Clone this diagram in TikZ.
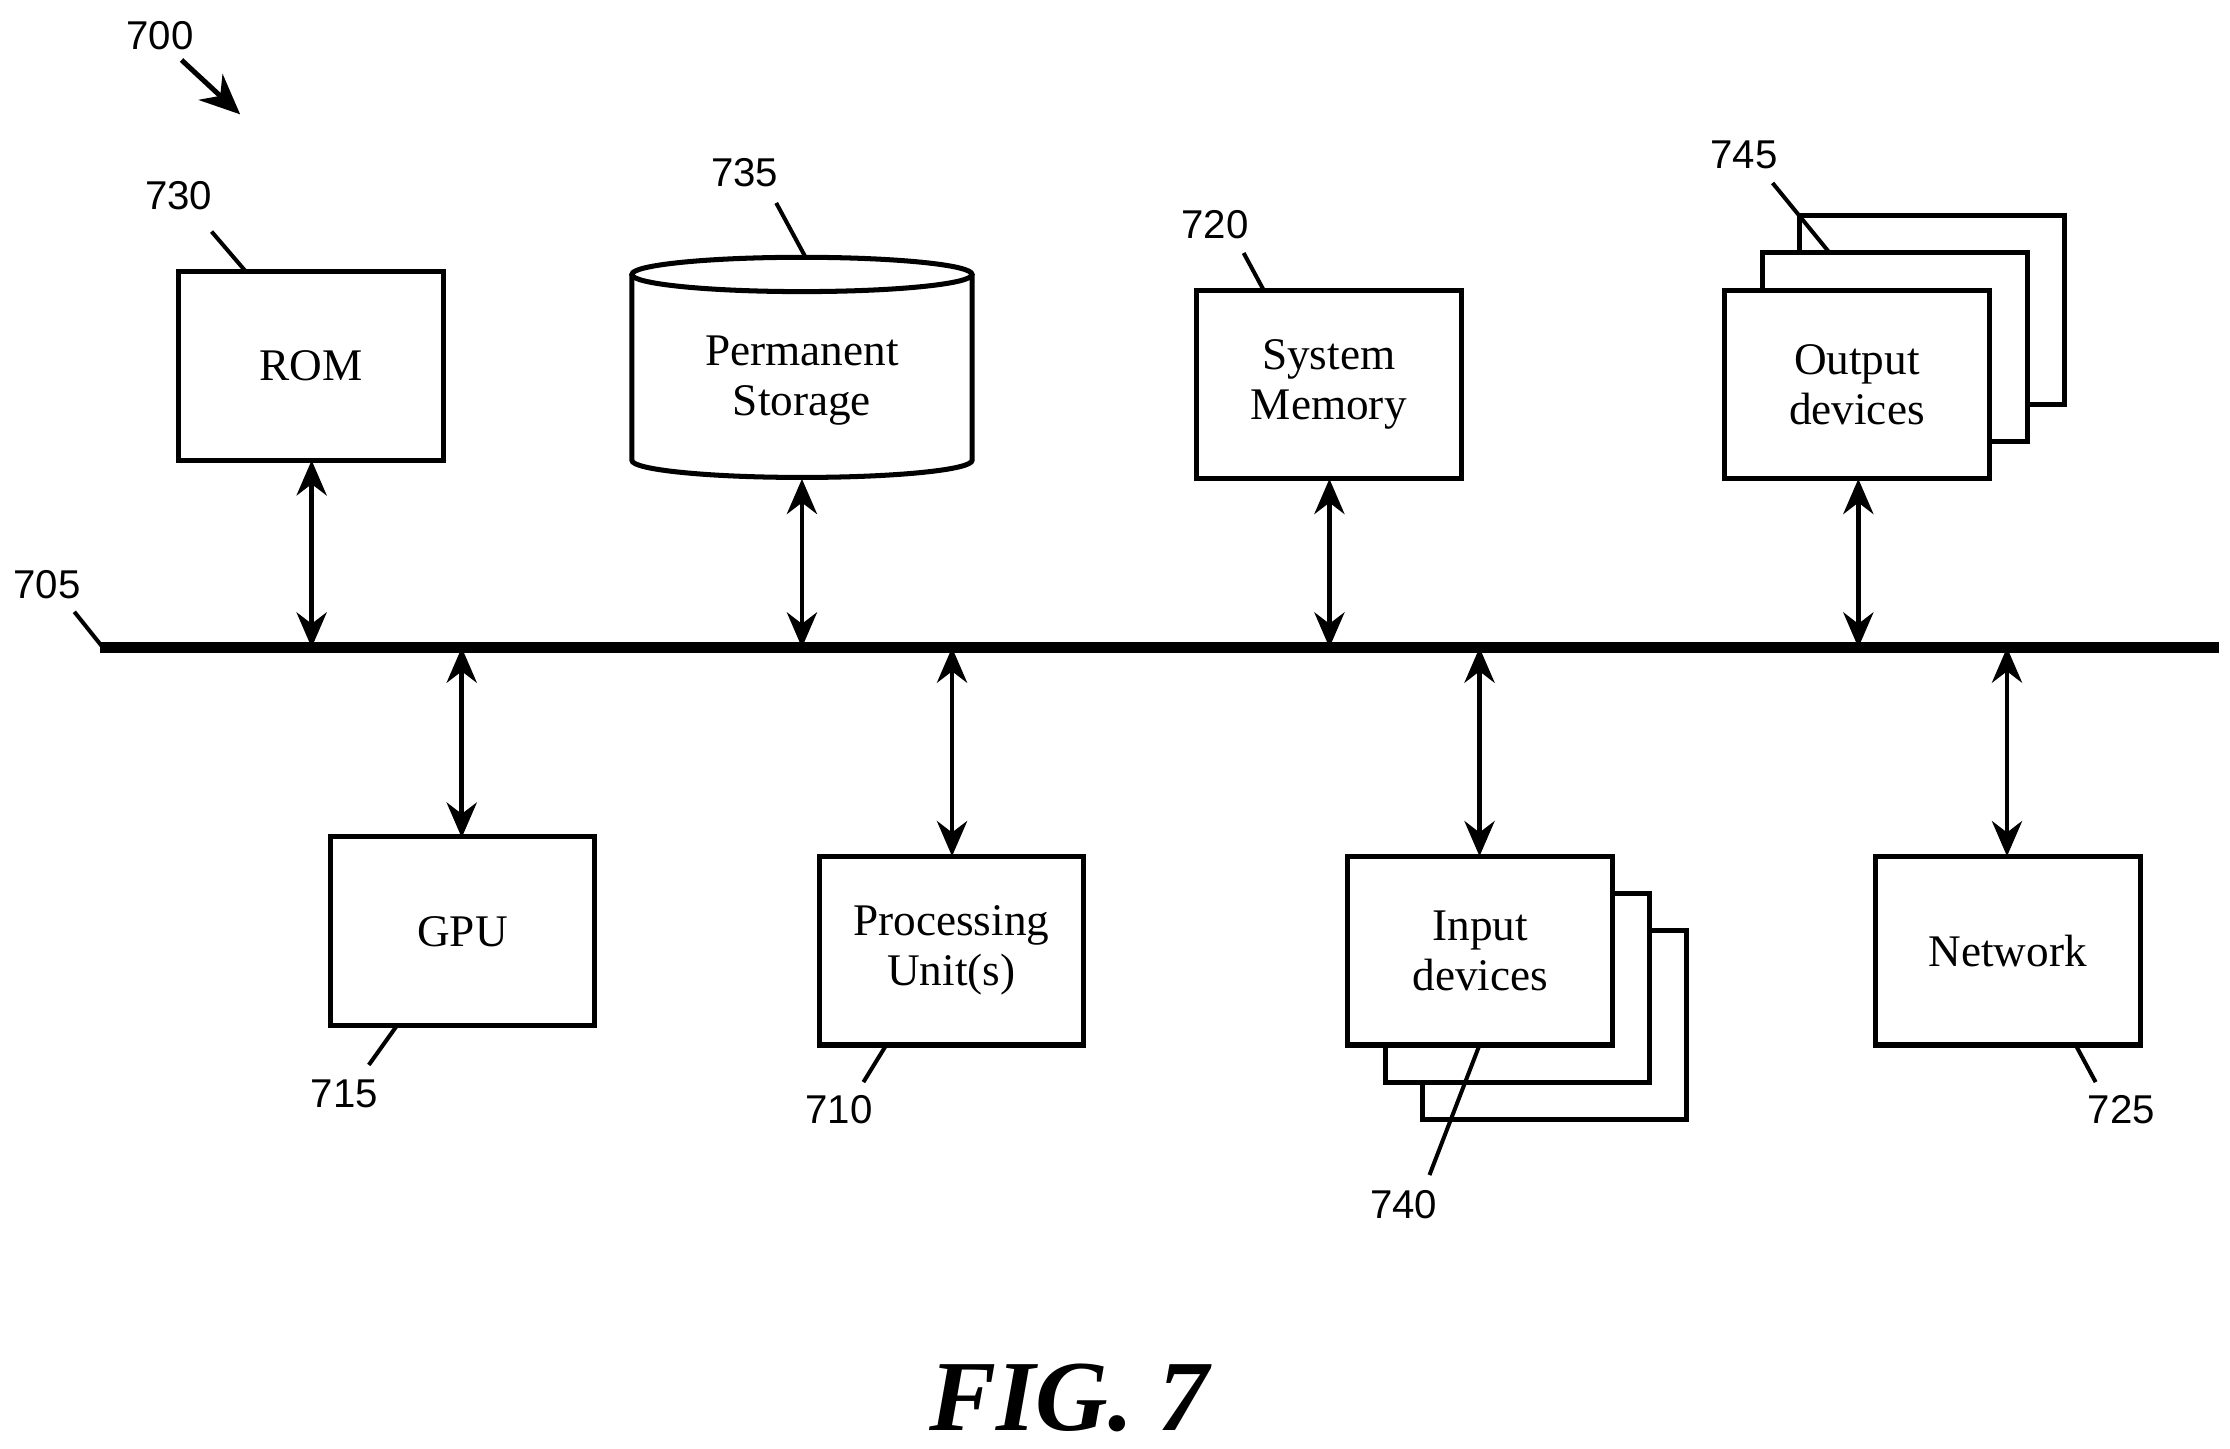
\documentclass[tikz,border=0pt]{standalone}
\usepackage{fontspec}
\setmainfont{Liberation Serif}
\newfontfamily\lab{Liberation Sans}
\usetikzlibrary{arrows.meta}
\begin{document}
\begin{tikzpicture}[x=0.01cm,y=-0.01cm,
  box/.style={draw,line width=1pt,fill=white,align=center,minimum width=1.85cm,minimum height=1.32cm,font=\fontsize{9}{10}\selectfont},
  num/.style={font=\lab\fontsize{8}{9}\selectfont},
  lead/.style={line width=0.8pt},
  dbl/.style={line width=0.9pt,{Stealth[length=7pt,width=6pt]}-{Stealth[length=7pt,width=6pt]}}]
\useasboundingbox (0,0) rectangle (1560,1013);
% bus
\coordinate (b0) at (70,453); \coordinate (b1) at (1552,453);
\draw[line width=2.2pt] (b0) -- (b1);
% top boxes
\node[box] (rom) at (217.5,256) {ROM};
% cylinder
\draw[line width=1pt,fill=white] (442,192) -- (442,322) arc[start angle=180,end angle=0,x radius=119,y radius=12] -- (680,192);
\draw[line width=1pt] (561,192) ellipse[x radius=119,y radius=12];
\node[align=center,font=\fontsize{9}{10}\selectfont] (ps) at (561,266) {Permanent\\Storage};
\coordinate (psb) at (561,335);
\node[box] (mem) at (929.5,269) {System\\Memory};
\node[box] (o3) at (1351.5,217) {};
\node[box] (o2) at (1325.5,243) {};
\node[box] (out) at (1299,269) {Output\\devices};
% bottom boxes
\node[box] (gpu) at (323.5,651.5) {GPU};
\node[box] (cpu) at (665.5,665) {Processing\\Unit(s)};
\node[box] (i3) at (1087.5,717) {};
\node[box] (i2) at (1061.5,691) {};
\node[box] (in) at (1035.5,665) {Input\\devices};
\node[box] (net) at (1404.5,665) {Network};
% arrows
\draw[dbl] (218,322) -- (218,453);
\draw[dbl] (psb) -- (561,453);
\draw[dbl] (930,335) -- (930,453);
\draw[dbl] (1300,335) -- (1300,453);
\draw[dbl] (323,453) -- (323,586);
\draw[dbl] (666,453) -- (666,599);
\draw[dbl] (1035,453) -- (1035,599);
\draw[dbl] (1404,453) -- (1404,599);
% labels
\node[num] (l700) at (112,25) {700};
\draw[line width=1pt,-{Stealth[length=8pt,width=7pt]}] (127,42) -- (168,80);
\node[num] (l730) at (125,137) {730}; \draw[lead] (148,162) -- (172,190);
\node[num] (l735) at (521,121) {735}; \draw[lead] (543,142) -- (563,179);
\node[num] (l720) at (850,157) {720}; \draw[lead] (870,177) -- (884,203);
\node[num] (l745) at (1220,108) {745}; \draw[lead] (1240,128) -- (1280,177);
\node[num] (l705) at (33,409) {705}; \draw[lead] (52,428) -- (72,453);
\node[num] (l715) at (241,765) {715}; \draw[lead] (258,745) -- (278,717);
\node[num] (l710) at (587,776) {710}; \draw[lead] (604,757) -- (620,731);
\node[num] (l740) at (982,843) {740}; \draw[lead] (1000,822) -- (1035,731);
\node[num] (l725) at (1484,776) {725}; \draw[lead] (1466,757) -- (1452,731);
\node[font=\bfseries\itshape\fontsize{20}{22}\selectfont] (fig) at (748,978) {FIG. 7};
\end{tikzpicture}
\end{document}
